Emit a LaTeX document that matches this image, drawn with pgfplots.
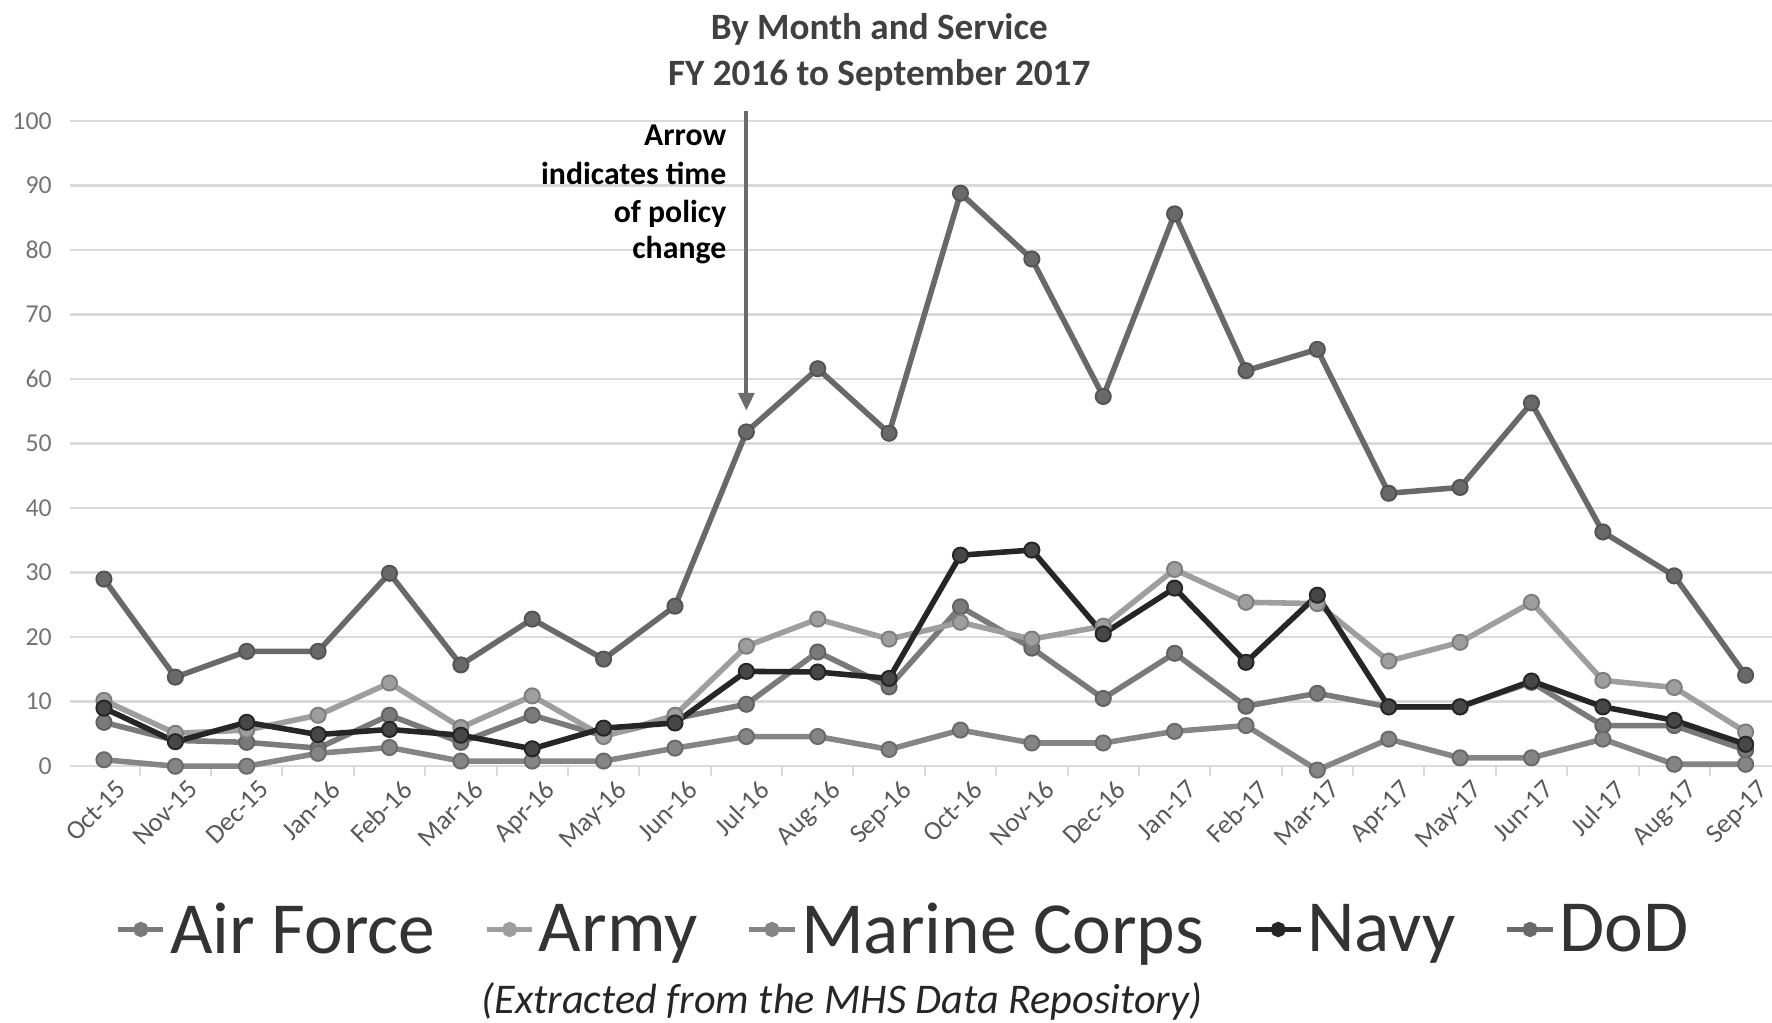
\documentclass[border=0pt]{standalone}
\usepackage{pgfplots}
\pgfplotsset{compat=1.18}
\usepackage{pgfplotstable}
\usepackage{fontspec}
\setmainfont{Carlito}
\usetikzlibrary{arrows.meta}

\definecolor{cdod}{HTML}{696969}
\definecolor{carmy}{HTML}{9E9E9E}
\definecolor{caf}{HTML}{7A7A7A}
\definecolor{cmc}{HTML}{858585}
\definecolor{cnavy}{HTML}{262626}
\definecolor{cgrid}{HTML}{DADADA}
\definecolor{ctick}{HTML}{5A5A5A}

% month index, Air Force, Army, Marine Corps, Navy, DoD
\pgfplotstableread{
x  af    army  mc    navy  dod
0  6.8   10.2  1.0   9.0   29.0
1  4.0   5.1   0.0   3.8   13.8
2  3.7   5.6   0.0   6.8   17.8
3  2.8   7.9   2.0   4.9   17.8
4  7.9   12.9  2.9   5.7   29.9
5  3.7   6.0   0.8   4.8   15.7
6  7.9   10.9  0.8   2.7   22.8
7  4.7   4.6   0.8   5.9   16.6
8  7.4   7.9   2.8   6.7   24.8
9  9.6   18.6  4.6   14.7  51.8
10 17.7  22.8  4.6   14.6  61.6
11 12.3  19.7  2.6   13.6  51.6
12 24.7  22.3  5.6   32.7  88.8
13 18.3  19.7  3.6   33.5  78.6
14 10.5  21.7  3.6   20.5  57.3
15 17.5  30.5  5.4   27.6  85.6
16 9.3   25.4  6.3   16.1  61.3
17 11.3  25.2  -0.6  26.5  64.6
18 9.2   16.3  4.2   9.2   42.3
19 9.2   19.2  1.3   9.2   43.2
20 13.0  25.4  1.3   13.2  56.3
21 6.3   13.3  4.2   9.2   36.3
22 6.3   12.2  0.3   7.1   29.5
23 2.5   5.3   0.3   3.4   14.1
}\datatable

\begin{document}
\begin{tikzpicture}
\path[use as bounding box] (-1.24,-4.54) rectangle (30.12,13.56);
\begin{axis}[
    scale only axis,
    width=30.12cm, height=11.42cm,
    xmin=-0.475, xmax=23.37,
    ymin=0, ymax=100,
    clip=false,
    axis line style={draw=none},
    tick style={draw=none},
    xtick pos=lower,
    ymajorgrids,
    grid style={cgrid, line width=1.2pt},
    ytick={0,10,...,100},
    xtick={0,...,23},
    xticklabels={Oct-15,Nov-15,Dec-15,Jan-16,Feb-16,Mar-16,Apr-16,May-16,Jun-16,Jul-16,Aug-16,Sep-16,Oct-16,Nov-16,Dec-16,Jan-17,Feb-17,Mar-17,Apr-17,May-17,Jun-17,Jul-17,Aug-17,Sep-17},
    x tick label style={rotate=45, anchor=north east, font=\fontsize{13.5}{15}\selectfont, text=ctick, xshift=3pt, yshift=-5pt},
    y tick label style={font=\fontsize{13}{15}\selectfont, text=ctick!85, xshift=-0.2cm},
    extra x ticks={0.5,1.5,...,22.5},
    extra x tick labels={},
    extra x tick style={grid=none, major tick length=5pt, tick align=outside,
        major tick style={draw=cgrid, line width=1pt}},
    /pgf/number format/assume math mode=true,
    every axis plot/.append style={line width=2.8pt, mark=*, mark size=3.8pt},
    legend style={at={(0.49,-0.253)}, anchor=center, draw=none, fill=none,
        legend columns=5, font=\fontsize{37}{40}\selectfont, text=black!80,
        /tikz/every even column/.append style={column sep=0.8cm}},
    legend image code/.code={
        \draw[line width=2.6pt] (0cm,0cm) -- (0.8cm,0cm);
        \fill (0.4cm,0cm) circle (2.4pt);
    },
]
\addplot[color=caf, mark options={fill=caf, draw=caf!80!black, line width=1pt}] table[x=x, y=af] {\datatable};
\addlegendentry{Air Force}
\addplot[color=carmy, mark options={fill=carmy, draw=carmy!80!black, line width=1pt}] table[x=x, y=army] {\datatable};
\addlegendentry{Army}
\addplot[color=cmc, mark options={fill=cmc, draw=cmc!80!black, line width=1pt}] table[x=x, y=mc] {\datatable};
\addlegendentry{Marine Corps}
\addplot[color=cnavy, mark options={fill=cnavy!85!white, draw=cnavy, line width=1pt}] table[x=x, y=navy] {\datatable};
\addlegendentry{Navy}
\addplot[color=cdod, mark options={fill=cdod, draw=cdod!80!black, line width=1pt}] table[x=x, y=dod] {\datatable};
\addlegendentry{DoD}

\draw[color=gray!85!black, line width=2pt, -{Triangle[length=9pt, width=8pt]}] (axis cs:9,101.6) -- (axis cs:9,55.1);
\end{axis}

\node[font=\bfseries\fontsize{18.7}{22}\selectfont, text=black!75] at (14.32,13.04) {By Month and Service};
\node[font=\bfseries\fontsize{18.7}{22}\selectfont, text=black!75] at (14.32,12.22) {FY 2016 to September 2017};

\begin{scope}[every node/.style={font=\bfseries\fontsize{16}{18}\selectfont, anchor=base east, inner sep=0pt}]
\node at (11.62,10.98) {Arrow};
\node at (11.62,10.30) {indicates time};
\node at (11.62,9.62) {of policy};
\node at (11.62,8.98) {change};
\end{scope}

\node[font=\itshape\fontsize{21.3}{25}\selectfont, text=black!85] at (13.66,-4.16) {(Extracted from the MHS Data Repository)};
\end{tikzpicture}
\end{document}
